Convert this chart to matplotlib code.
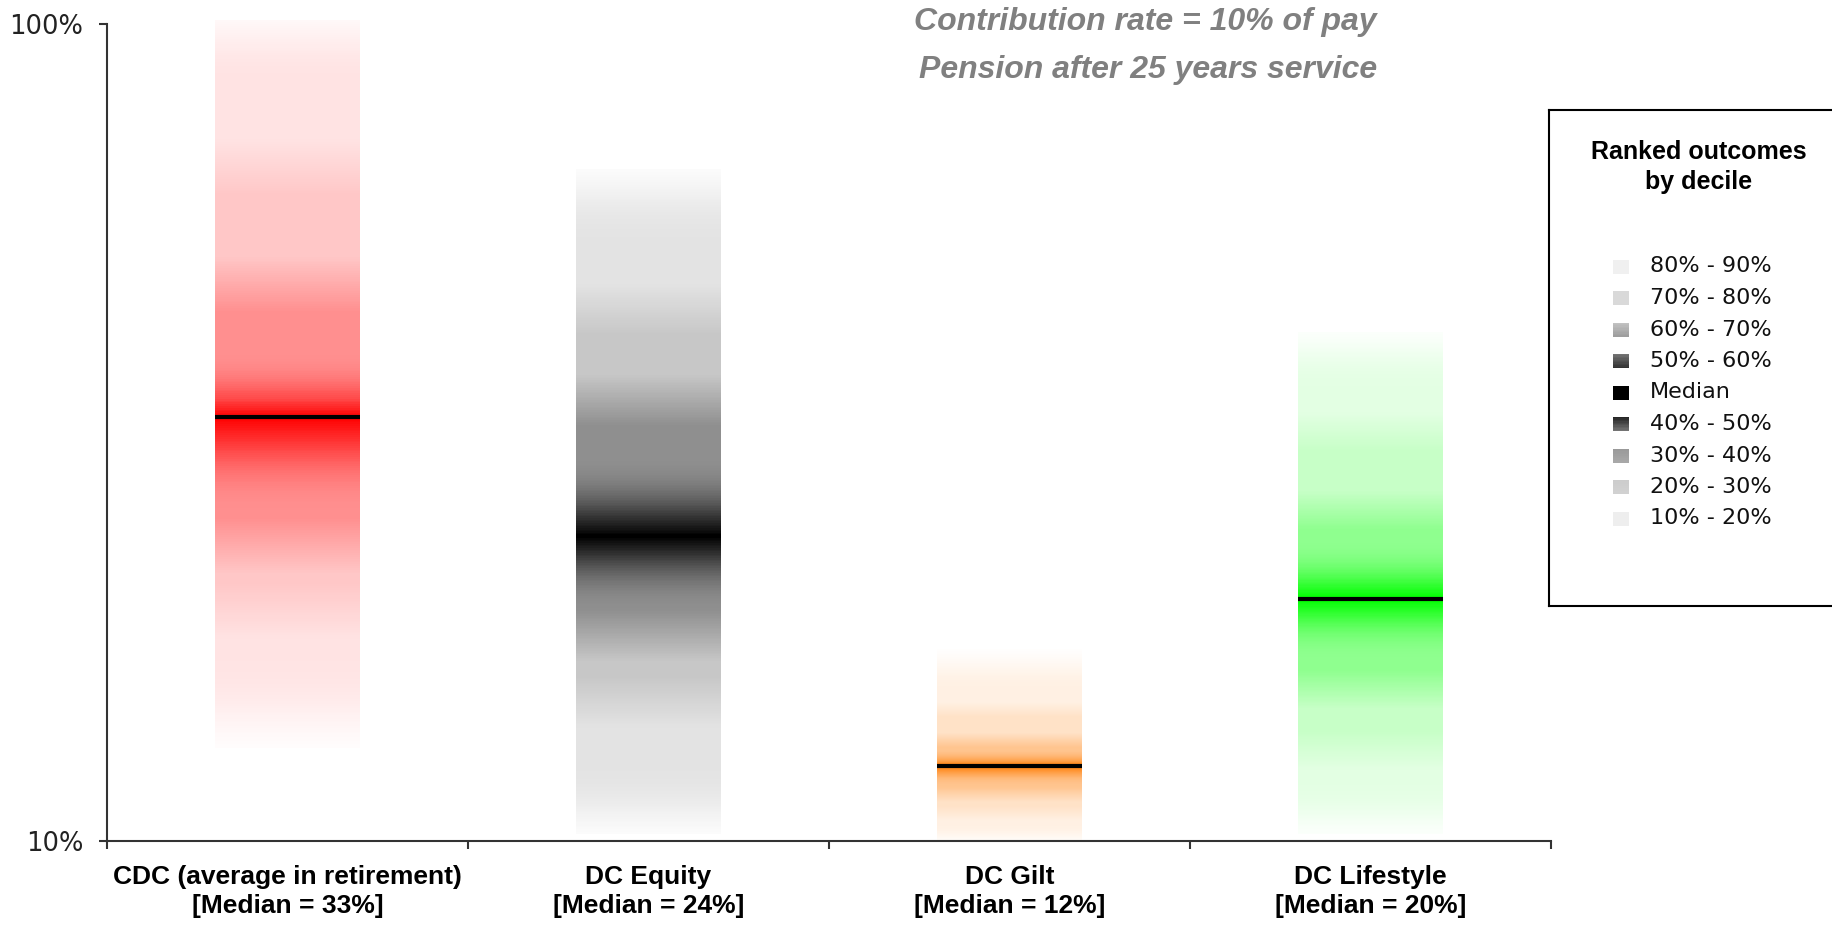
import numpy as np
import matplotlib.pyplot as plt
from matplotlib.colors import LinearSegmentedColormap

categories = ["CDC (average in retirement)", "DC Equity", "DC Gilt", "DC Lifestyle"]
median_labels = [33, 24, 12, 20]

# pension as % of pay: lowest, 10th ... 90th percentile, highest
cdc = [13.0, 15.6, 19.1, 23.0, 27.4, 33.0, 36.6, 48.0, 67.0, 93.0, 101.0]
dc_equity = [10.2, 11.5, 14.8, 17.8, 20.5, 23.6, 27.4, 34.7, 44.9, 58.0, 66.5]
dc_gilt = [10.0, 10.26, 10.8, 11.4, 11.9, 12.36, 12.7, 13.3, 14.5, 15.7, 17.2]
dc_lifestyle = [10.2, 11.2, 12.9, 15.3, 17.6, 19.8, 22.1, 25.4, 31.8, 37.7, 42.0]
series = [cdc, dc_equity, dc_gilt, dc_lifestyle]
bar_colors = ["#ff0000", "#000000", "#ff7a00", "#00ff00"]

legend_labels = ["80% - 90%", "70% - 80%", "60% - 70%", "50% - 60%", "Median",
                 "40% - 50%", "30% - 40%", "20% - 30%", "10% - 20%"]
# grey level of each legend swatch (top, bottom), 1 = white
legend_greys = [(0.94, 0.94), (0.85, 0.85), (0.76, 0.62), (0.45, 0.2), (0.0, 0.0),
                (0.15, 0.45), (0.6, 0.66), (0.8, 0.82), (0.93, 0.93)]

# shade at start/end of each of the 10 bands (fraction of full colour)
band_start = np.array([0, .11, .22, .44, .44, 1.0, .44, .22, .11, .11])
band_end = np.array([.11, .11, .22, .44, 1.0, .44, .44, .22, .11, 0])


def shade(y, q):
    lq = np.log10(q)
    ly = np.log10(y)
    k = np.clip(np.searchsorted(lq, ly) - 1, 0, 9)
    f = (ly - lq[k]) / (lq[k + 1] - lq[k])
    v = band_start[k] + f * (band_end[k] - band_start[k])
    # soften the band edges
    w = 31
    vp = np.pad(v, w // 2, mode="edge")
    vs = np.convolve(vp, np.ones(w) / w, mode="valid")
    return np.where((k == 4) | (k == 5), np.maximum(v, vs), vs)


fig = plt.figure(figsize=(18.33, 9.25), dpi=100)
ax = fig.add_axes([107 / 1833, 1 - 841 / 925, (1551 - 107) / 1833, (841 - 24) / 925])

bw = 0.40
for i, (q, col) in enumerate(zip(series, bar_colors)):
    edges = np.geomspace(q[0], q[-1], 401)
    mids = np.sqrt(edges[:-1] * edges[1:])
    c = shade(mids, q)
    cmap = LinearSegmentedColormap.from_list("c%d" % i, ["white", col])
    m = ax.pcolormesh([i - bw / 2, i + bw / 2], edges, c[:, None], cmap=cmap,
                      vmin=0, vmax=1, shading="flat", antialiased=False,
                      edgecolors="none", zorder=2)
    m.set_clip_on(False)
    ax.hlines(q[5], i - bw / 2, i + bw / 2, color="black", lw=3, zorder=3)

ax.set_yscale("log")
ax.set_ylim(10, 100)
ax.set_xlim(-0.5, 3.5)
ax.set_yticks([10, 100])
ax.set_yticklabels(["10%", "100%"])
ax.yaxis.set_minor_locator(plt.NullLocator())
ax.tick_params(axis="y", which="major", direction="out", length=6, width=1.5,
               color="#333333", labelsize=18.5, pad=11, labelcolor="#222222")

ax.set_xticks([-0.5, 0.5, 1.5, 2.5, 3.5])
ax.set_xticklabels([])
ax.tick_params(axis="x", which="major", direction="out", length=6, width=1.5, color="#333333")
xlabels = ["%s\n[Median = %d%%]" % (c, m) for c, m in zip(categories, median_labels)]
ax.set_xticks(range(4), xlabels, minor=True)
ax.tick_params(axis="x", which="minor", length=0, pad=17)
for t in ax.get_xticklabels(minor=True):
    t.set_fontfamily(["Liberation Sans", "DejaVu Sans"])
    t.set_fontweight("bold")
    t.set_fontsize(19)
    t.set_linespacing(1.3)

for s in ["top", "right"]:
    ax.spines[s].set_visible(False)
for s in ["left", "bottom"]:
    ax.spines[s].set_color("#333333")
    ax.spines[s].set_linewidth(1.5)

fig.text(1377 / 1833, 1 - 22 / 925, "Contribution rate = 10% of pay", ha="right", va="center",
         color="#808080", fontsize=23, fontweight="bold", fontstyle="italic",
         family=["Liberation Sans", "DejaVu Sans"])
fig.text(1377 / 1833, 1 - 70 / 925, "Pension after 25 years service", ha="right", va="center",
         color="#808080", fontsize=23, fontweight="bold", fontstyle="italic",
         family=["Liberation Sans", "DejaVu Sans"])

# legend box
lax = fig.add_axes([1549 / 1833, 1 - 606 / 925, 300 / 1833, 496 / 925])
lax.set_xlim(0, 300)
lax.set_ylim(496, 0)
lax.set_xticks([])
lax.set_yticks([])
for s in lax.spines.values():
    s.set_linewidth(1.5)
    s.set_color("black")
lax.text(150, 57, "Ranked outcomes\nby decile", ha="center", va="center", fontsize=18,
         fontweight="bold", linespacing=1.35, family=["Liberation Sans", "DejaVu Sans"])
for k, (lab, g) in enumerate(zip(legend_labels, legend_greys)):
    yc = 156.5 + k * 31.5
    lax.pcolormesh([64, 80], np.linspace(yc - 7, yc + 7, 11),
                   np.linspace(g[0], g[1], 10)[:, None], cmap="gray", vmin=0, vmax=1)
    lax.text(101, yc, lab, ha="left", va="center", fontsize=16, color="#111111")

fig.savefig("out.png", dpi=100)
